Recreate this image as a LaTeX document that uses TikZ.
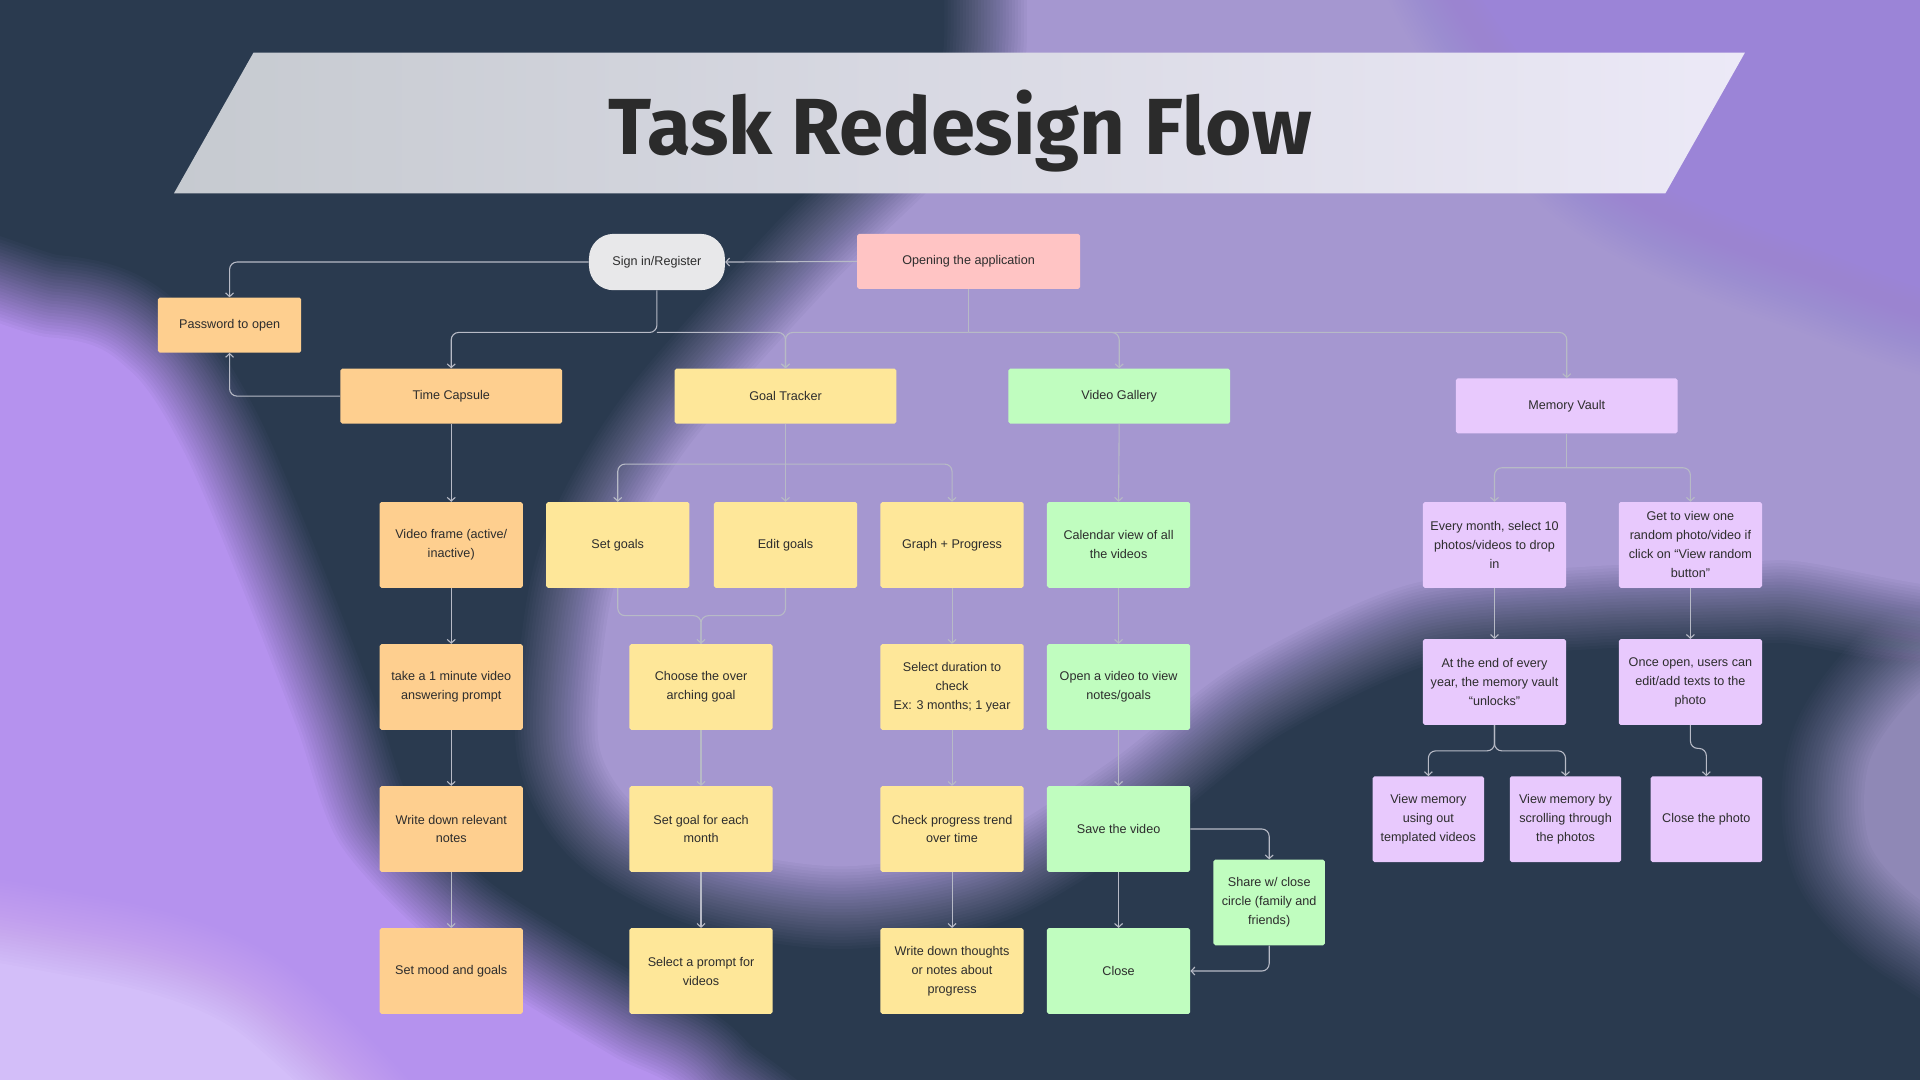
\documentclass[tikz,border=0pt]{standalone}
\usepackage{fontspec}
\setmainfont{Liberation Sans}
\newfontfamily\titlefont{Fira Sans}
\usetikzlibrary{arrows.meta,calc}
\definecolor{navy}{HTML}{2A3A4F}
\definecolor{pmid}{HTML}{A597D0}
\definecolor{ptop}{HTML}{9B84D7}
\definecolor{pleft}{HTML}{B592EE}
\definecolor{pcorner}{HTML}{D3BEF9}
\definecolor{pright}{HTML}{8F88B6}
\definecolor{cSign}{HTML}{E8E8EA}
\definecolor{cPink}{HTML}{FFC4C4}
\definecolor{cOrange}{HTML}{FECF8F}
\definecolor{cYellow}{HTML}{FEE799}
\definecolor{cGreen}{HTML}{C0FDBF}
\definecolor{cLilac}{HTML}{E8C9FD}
\definecolor{txt}{HTML}{2D2D2D}
\definecolor{lineC}{HTML}{B7BAC6}
\definecolor{bannerL}{HTML}{C6CAD0}
\definecolor{bannerR}{HTML}{ECE9F7}
\definecolor{titleC}{HTML}{2B2B2B}
\newcommand\boxfont{\fontsize{10.3}{15.5}\selectfont}
% feathered blob: linear ramp over 70 units outside the given outline
\newcommand\blob[2]{%
  \foreach \fw [count=\k] in {140,135,...,5}{%
    \pgfmathsetmacro\op{1/(29-\k)}%
    \begin{scope}[transparency group, opacity=\op]
      \path[fill=#1, draw=#1, line width=\fw pt, line join=round]
        plot[smooth cycle, tension=0.5] coordinates {#2};
    \end{scope}}}
\tikzset{
  bx/.style={fill=#1, rounded corners=1.5pt, inner sep=0pt, align=center, font=\boxfont, text=txt},
  tallbox/.style={minimum width=117pt, minimum height=70pt},
  widebox/.style={minimum width=181pt, minimum height=45pt},
  narrowbox/.style={minimum width=91pt, minimum height=70pt},
  conn/.style={draw=lineC, line width=0.9pt, rounded corners=6pt},
  arr/.style={conn, -{Straight Barb[length=3pt,width=6.5pt]}}
}
\begin{document}
\begin{tikzpicture}[x=1pt,y=-1pt]
\useasboundingbox (0,0) rectangle (1568,882);
\begin{scope}
\clip (0,0) rectangle (1568,882);
\fill[navy] (0,0) rectangle (1568,882);
% middle / top-right purple region
\blob{pmid}{(920,-120) (1700,-120) (1700,440) (1450,455) (1300,460) (1150,475) (1010,540) (905,620) (800,685) (690,705) (590,690) (520,655) (492,610) (494,540) (510,460) (565,365) (680,235) (830,80)}
\blob{ptop}{(1200,-90) (1660,-90) (1660,230) (1480,200) (1300,110)}
% right lobe
\blob{pright}{(1530,620) (1580,560) (1650,560) (1650,760) (1580,740) (1530,690)}
% bottom-left purple region
\blob{pleft}{(-200,1000) (-200,282) (40,278) (105,305) (148,370) (195,480) (240,595) (275,690) (350,770) (425,820) (500,865) (560,900) (600,1000)}
\blob{pcorner}{(-150,1000) (-150,790) (60,800) (200,850) (300,1000)}
\end{scope}
% banner
\shade[left color=bannerL, right color=bannerR] (207,43) -- (1425,43) -- (1360,158) -- (142,158) -- cycle;
\node[anchor=base, text=titleC, inner sep=0pt, font={\titlefont\bfseries\fontsize{65}{70}\selectfont}] (title) at (784,126) {Task Redesign Flow};

% nodes
\node[bx=cSign, minimum width=111pt, minimum height=46pt, rounded corners=20pt] (signin) at (536.5,214) {Sign in/Register};
\node[bx=cPink, minimum width=182pt, minimum height=45pt] (open) at (791,213.5) {Opening the application};
\node[bx=cOrange, minimum width=117pt, minimum height=45pt] (pwd) at (187.5,265.5) {Password to open};
\node[bx=cOrange, widebox] (tc) at (368.5,323.5) {Time Capsule};
\node[bx=cYellow, widebox] (gt) at (641.5,323.5) {Goal Tracker};
\node[bx=cGreen, widebox] (vg) at (914,323.5) {Video Gallery};
\node[bx=cLilac, widebox] (mv) at (1279.5,331.5) {Memory Vault};

\node[bx=cOrange, tallbox] (vf) at (368.5,445) {Video frame (active/\\inactive)};
\node[bx=cYellow, tallbox] (sg) at (504.5,445) {Set goals};
\node[bx=cYellow, tallbox] (eg) at (641.5,445) {Edit goals};
\node[bx=cYellow, tallbox] (gp) at (777.5,445) {Graph + Progress};
\node[bx=cGreen, tallbox] (cal) at (913.5,445) {Calendar view of all\\the videos};
\node[bx=cLilac, tallbox] (em) at (1220.5,445) {Every month, select 10\\photos/videos to drop\\in};
\node[bx=cLilac, tallbox] (gv) at (1380.5,445) {Get to view one\\random photo/video if\\click on “View random\\button”};

\node[bx=cOrange, tallbox] (tk) at (368.5,561) {take a 1 minute video\\answering prompt};
\node[bx=cYellow, tallbox] (ch) at (572.5,561) {Choose the over\\arching goal};
\node[bx=cYellow, tallbox] (sd) at (777.5,561) {Select duration to\\check\\Ex: 3 months; 1 year};
\node[bx=cGreen, tallbox] (ov) at (913.5,561) {Open a video to view\\notes/goals};
\node[bx=cLilac, tallbox] (ae) at (1220.5,557) {At the end of every\\year, the memory vault\\“unlocks”};
\node[bx=cLilac, tallbox] (oo) at (1380.5,557) {Once open, users can\\edit/add texts to the\\photo};

\node[bx=cOrange, tallbox] (wd) at (368.5,677) {Write down relevant\\notes};
\node[bx=cYellow, tallbox] (sgm) at (572.5,677) {Set goal for each\\month};
\node[bx=cYellow, tallbox] (cp) at (777.5,677) {Check progress trend\\over time};
\node[bx=cGreen, tallbox] (sv) at (913.5,677) {Save the video};
\node[bx=cLilac, narrowbox] (vm1) at (1166.5,669) {View memory\\using out\\templated videos};
\node[bx=cLilac, narrowbox] (vm2) at (1278.5,669) {View memory by\\scrolling through\\the photos};
\node[bx=cLilac, narrowbox] (cph) at (1393.5,669) {Close the photo};
\node[bx=cGreen, narrowbox] (sh) at (1036.5,737) {Share w/ close\\circle (family and\\friends)};

\node[bx=cOrange, tallbox] (sm) at (368.5,793) {Set mood and goals};
\node[bx=cYellow, tallbox] (sp) at (572.5,793) {Select a prompt for\\videos};
\node[bx=cYellow, tallbox] (wt) at (777.5,793) {Write down thoughts\\or notes about\\progress};
\node[bx=cGreen, tallbox] (cl) at (913.5,793) {Close};

% bus coordinates
\coordinate (busA) at (536.5,271.5);
\coordinate (busG) at (641.5,379);
\coordinate (busM) at (1279.5,382);

% connectors
\draw[arr] (open.west) -- (signin.east);
\draw[arr] (signin.west) -| (pwd.north);
\draw[arr] (tc.west) -| (pwd.south);
\draw[arr] (signin.south) -- (signin.south |- busA) -| (tc.north);
\draw[arr] (signin.south |- busA) -| (gt.north);
\draw[conn] (open.south) -- (open.south |- busA);
\draw[arr] (open.south |- busA) -| (gt.north);
\draw[arr] (open.south |- busA) -| (vg.north);
\draw[arr] (open.south |- busA) -| (mv.north);

\draw[arr] (tc) -- (vf);
\draw[arr] (vf) -- (tk);
\draw[arr] (tk) -- (wd);
\draw[arr] (wd) -- (sm);

\draw[conn] (gt.south) -- (busG);
\draw[arr] (busG) -| (sg.north);
\draw[arr] (busG) -- (eg.north);
\draw[arr] (busG) -| (gp.north);
\draw[conn] (sg.south) |- ($(ch.north)+(0,-23)$) -- (ch.north);
\draw[arr] (eg.south) |- ($(ch.north)+(0,-23)$) -- (ch.north);
\draw[arr] (ch) -- (sgm);
\draw[arr] (sgm) -- (sp);
\draw[arr] (gp) -- (sd);
\draw[arr] (sd) -- (cp);
\draw[arr] (cp) -- (wt);

\draw[arr] (vg.south) -- (cal.north);
\draw[arr] (cal) -- (ov);
\draw[arr] (ov) -- (sv);
\draw[arr] (sv) -- (cl);
\draw[arr] (sv.east) -| (sh.north);
\draw[arr] (sh.south) |- (cl.east);

\draw[conn] (mv.south) -- (busM);
\draw[arr] (busM) -| (em.north);
\draw[arr] (busM) -| (gv.north);
\draw[arr] (em) -- (ae);
\draw[arr] (gv) -- (oo);
\draw[arr] (ae.south) -- ++(0,21) -| (vm1.north);
\draw[arr] (ae.south) -- ++(0,21) -| (vm2.north);
\draw[arr] (oo.south) -- ++(0,19) -| (cph.north);
\end{tikzpicture}
\end{document}
